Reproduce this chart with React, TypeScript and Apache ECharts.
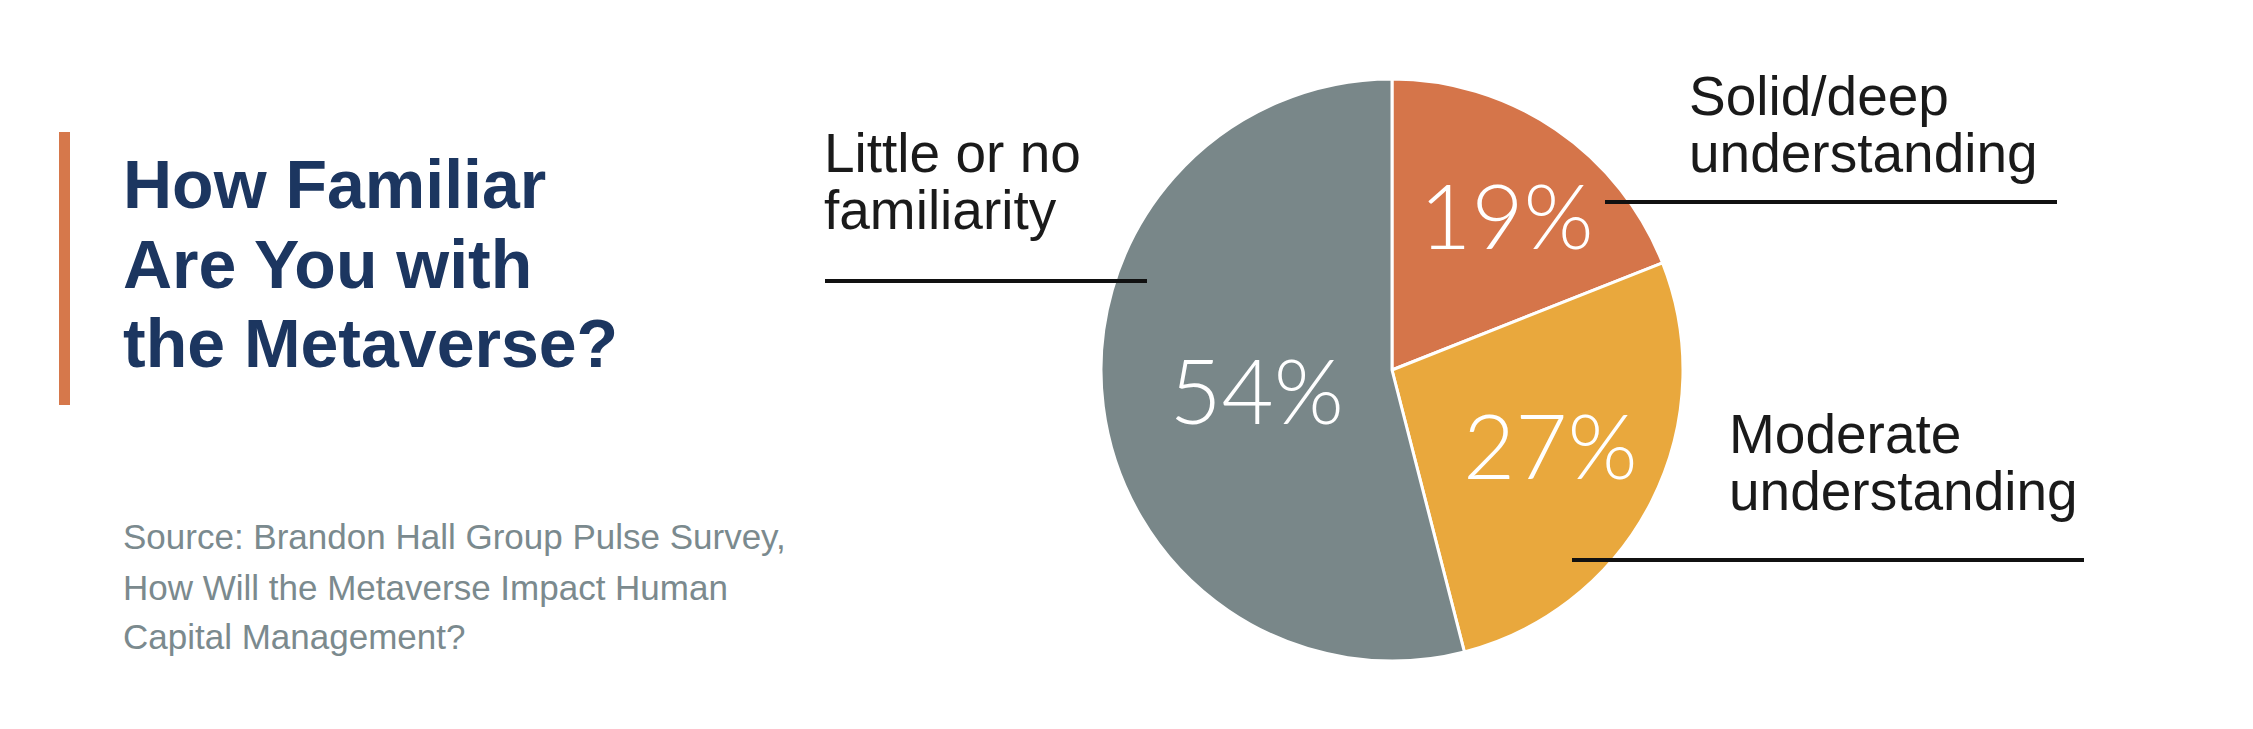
import React, { useEffect, useRef } from "react";
import * as echarts from "echarts";

// ---- data ----
const categories = ["Solid/deep understanding", "Moderate understanding", "Little or no familiarity"];
const values = [19, 27, 54];
const sliceColors = ["#D5754A", "#E9A83D", "#798789"];

const titleLines = ["How Familiar", "Are You with", "the Metaverse?"];
const sourceLines = [
  "Source: Brandon Hall Group Pulse Survey,",
  "How Will the Metaverse Impact Human",
  "Capital Management?",
];
const calloutLines = [
  ["Solid/deep", "understanding"],
  ["Moderate", "understanding"],
  ["Little or no", "familiarity"],
];

// ---- layout / style (not data) ----
const W = 2253;
const H = 729;
const CENTER = [1392, 370];
const RADIUS = 291;
const LABEL_SHIFT = [
  [31, -33],
  [26, 7],
  [12, 0],
];
const CALLOUT_POS = [
  { x: 1689, y: [96, 153], line: [1605, 2057, 202] },
  { x: 1729, y: [434, 491], line: [1572, 2084, 560] },
  { x: 824, y: [153, 210], line: [825, 1147, 281] },
];

export default function App() {
  const ref = useRef<HTMLDivElement>(null);

  useEffect(() => {
    if (!ref.current) return;
    const chart = echarts.init(ref.current, null, { renderer: "svg" });

    const graphics: any[] = [];
    // accent bar
    graphics.push({
      type: "rect",
      shape: { x: 59, y: 132, width: 11, height: 273 },
      style: { fill: "#D6784B" },
    });
    // title
    const titleY = [184, 264, 343];
    titleLines.forEach((t, i) => {
      graphics.push({
        type: "text",
        x: 123,
        y: titleY[i],
        style: {
          text: t,
          fill: "#1C3660",
          font: "bold 68px 'Liberation Sans', Arial, sans-serif",
          align: "left",
          verticalAlign: "middle",
        },
      });
    });
    // source
    const srcY = [536, 587, 636];
    sourceLines.forEach((t, i) => {
      graphics.push({
        type: "text",
        x: 123,
        y: srcY[i],
        style: {
          text: t,
          fill: "#7B8A8E",
          font: "35px 'Liberation Sans', Arial, sans-serif",
          align: "left",
          verticalAlign: "middle",
        },
      });
    });
    // callouts
    calloutLines.forEach((lines, k) => {
      const p = CALLOUT_POS[k];
      lines.forEach((t, i) => {
        graphics.push({
          type: "text",
          x: p.x,
          y: p.y[i],
          style: {
            text: t,
            fill: "#1A1A1A",
            font: "55px 'Liberation Sans', Arial, sans-serif",
            align: "left",
            verticalAlign: "middle",
          },
        });
      });
      graphics.push({
        type: "line",
        z: 10,
        shape: { x1: p.line[0], y1: p.line[2], x2: p.line[1], y2: p.line[2] },
        style: { stroke: "#111111", lineWidth: 4 },
      });
    });

    chart.setOption({
      animation: false,
      backgroundColor: "#ffffff",
      graphic: graphics,
      series: [
        {
          type: "pie",
          center: CENTER,
          radius: RADIUS,
          startAngle: 90,
          clockwise: true,
          silent: true,
          itemStyle: { borderColor: "#ffffff", borderWidth: 3 },
          label: {
            show: true,
            position: "inside",
            formatter: "{c}%",
            color: "#ffffff",
            fontFamily: "Lato, 'Liberation Sans', sans-serif",
            fontWeight: 300,
            fontSize: 90,
          },
          labelLine: { show: false },
          labelLayout: (params: any) => {
            const s = LABEL_SHIFT[params.dataIndex] || [0, 0];
            return { dx: s[0], dy: s[1] };
          },
          data: categories.map((name, i) => ({
            name,
            value: values[i],
            itemStyle: { color: sliceColors[i] },
          })),
        },
      ],
    });

    return () => chart.dispose();
  }, []);

  return (
    <div
      ref={ref}
      style={{ position: "absolute", left: 0, top: 0, width: W, height: H }}
    />
  );
}
